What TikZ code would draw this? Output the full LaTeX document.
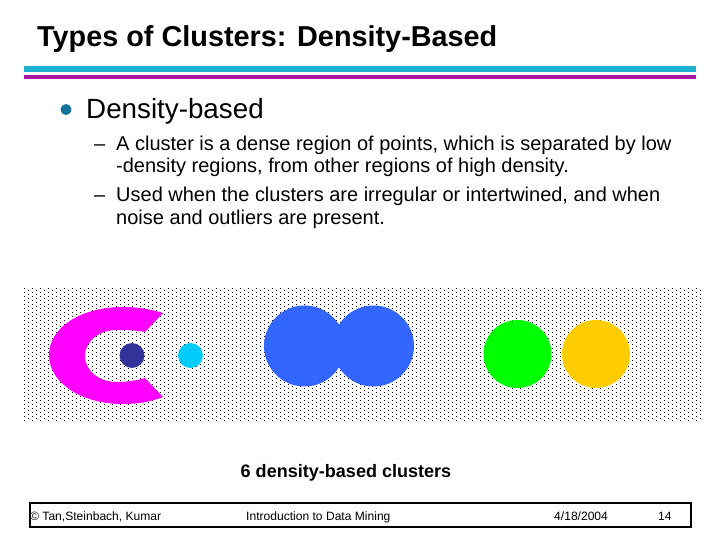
\documentclass[tikz,border=0pt]{standalone}
\usepackage{fontspec}
\setmainfont{Liberation Sans}
\definecolor{rulecyan}{RGB}{30,175,210}
\definecolor{rulepurple}{RGB}{170,25,160}
\definecolor{bulletblue}{RGB}{20,115,155}
\definecolor{clumagenta}{RGB}{255,0,255}
\definecolor{cluindigo}{RGB}{51,51,153}
\definecolor{clusky}{RGB}{0,204,255}
\definecolor{clublue}{RGB}{51,102,255}
\definecolor{clugreen}{RGB}{0,255,0}
\definecolor{cluamber}{RGB}{255,204,0}
\tikzset{
  bodytext/.style={anchor=base west, inner sep=0pt, font=\fontsize{17.05}{20}\selectfont},
  foottext/.style={anchor=base west, inner sep=0pt, font=\fontsize{10.3}{12}\selectfont},
}
\begin{document}
\begin{tikzpicture}[x=0.03cm, y=-0.03cm]
  \useasboundingbox (0,0) rectangle (720,540);

  % Title and rules
  \node (title) at (37,47) [anchor=base west, inner sep=0pt, font=\fontsize{24.6}{28}\selectfont\bfseries] {Types of Clusters: Density-Based};
  \fill[rulecyan] (24,66) rectangle (696,72);
  \fill[rulepurple] (24,75) rectangle (696,79);

  % Bullets
  \fill[bulletblue] (66,109.5) circle (5.5);
  \node (head) at (86,119) [bodytext, font=\fontsize{23.7}{27}\selectfont] {Density-based};
  \node (dasha) at (94,151) [bodytext] {–};
  \node (linea) at (116,151) [bodytext] {A cluster is a dense region of points, which is separated by low};
  \node (lineb) at (116,173) [bodytext] {-density regions, from other regions of high density.};
  \node (dashb) at (94,202) [bodytext] {–};
  \node (linec) at (116,202) [bodytext] {Used when the clusters are irregular or intertwined, and when};
  \node (lined) at (116,225) [bodytext] {noise and outliers are present.};

  % Noise
  \foreach \r in {0,...,33} {
    \foreach \c in {0,...,84} {
      \fill[black] ({24+8*\c},{288+4*\r}) rectangle +(1,1);
    }
  }
  \foreach \r in {0,...,32} {
    \foreach \c in {0,...,84} {
      \fill[black] ({28+8*\c},{290+4*\r}) rectangle +(1,1);
    }
  }

  % Clusters
  \fill[clumagenta] (163,313) .. controls (150,309) and (137,307) .. (123,307) .. controls (80,307) and (49,328) .. (49,355) .. controls (49,382) and (80,404) .. (123,404) .. controls (137,404) and (150,402) .. (163,397) -- (145,378) .. controls (135,381) and (125,382) .. (117,382) .. controls (98,382) and (85,370) .. (85,356) .. controls (85,342) and (98,330) .. (117,330) .. controls (125,330) and (135,330) .. (145,332) -- cycle;
  \fill[cluindigo] (132,355.5) circle (12.5);
  \fill[clusky] (190.5,355.5) circle (12.5);
  \fill[clublue] (304.5,346) circle (40.5);
  \fill[clublue] (373.5,346) circle (40.5);
  \fill[clugreen] (517.5,354) circle (34);
  \fill[cluamber] (596,354) circle (34);

  \node (caption) at (346,477) [anchor=base, inner sep=0pt, font=\fontsize{15.4}{18}\selectfont\bfseries] {6 density-based clusters};

  % Footer
  \draw[line width=2pt] (30,503) rectangle (691,527);
  \node (authors) at (30,520) [foottext] {© Tan,Steinbach, Kumar};
  \node (book) at (246,520) [foottext] {Introduction to Data Mining};
  \node (date) at (554,520) [foottext] {4/18/2004};
  \node (page) at (658,520) [foottext] {14};
\end{tikzpicture}
\end{document}
